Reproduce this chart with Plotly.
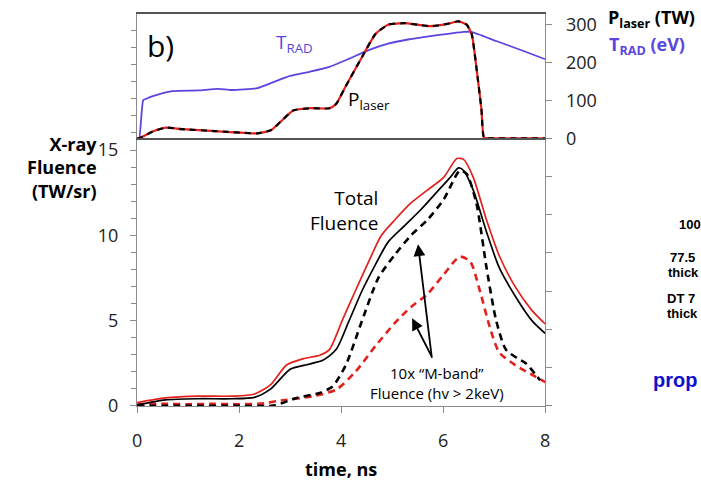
import plotly.graph_objects as go

# --- top panel: laser power and radiation temperature vs time (ns) ---
t_rad = [0.0, 0.04, 0.12, 0.18, 0.31, 0.69, 1.2, 1.59, 1.85, 2.36, 2.62, 3.0, 3.38, 3.77,
         4.15, 4.54, 4.92, 5.31, 5.75, 6.1, 6.4, 6.55, 7.04, 7.55, 8.0]
trad_ev = [0, 0, 100, 104, 111, 124, 126, 130, 127, 132, 145, 164, 175, 188,
           209, 232, 249, 260, 269, 275, 280, 280, 256, 231, 208]

t_las = [0.0, 0.04, 0.31, 0.56, 0.88, 1.52, 2.36, 2.62, 2.81, 3.06, 3.38, 3.77, 3.9,
         4.09, 4.41, 4.67, 4.92, 5.24, 5.5, 5.75, 6.08, 6.3, 6.46, 6.56, 6.65, 6.75,
         6.8, 6.9, 7.5, 8.0]
p_laser = [0, 0, 18, 28, 24, 19, 13, 21, 43, 73, 79, 79, 90,
           137, 214, 274, 299, 303, 299, 295, 301, 308, 299, 274, 188, 77,
           2, 0, 0, 0]

# --- bottom panel: x-ray fluence (TW/sr) vs time (ns) ---
t_tot = [0.0, 0.56, 1.2, 1.85, 2.29, 2.62, 2.93, 3.25, 3.58, 3.77, 4.02, 4.28, 4.54,
         4.79, 5.05, 5.37, 5.69, 6.01, 6.27, 6.4, 6.59, 6.85, 7.1, 7.42, 7.74, 8.0]
total_red = [0.2, 0.47, 0.57, 0.57, 0.68, 1.25, 2.4, 2.76, 2.97, 3.3, 5.0, 6.75, 8.46,
             10.0, 10.9, 11.9, 12.65, 13.4, 14.5, 14.45, 13.4, 10.9, 8.8, 6.95, 5.6, 4.8]

t_tot_b = [0.0, 0.56, 1.2, 1.85, 2.3, 2.62, 3.0, 3.3, 3.64, 3.9, 4.15, 4.41, 4.67,
           4.92, 5.24, 5.56, 5.88, 6.14, 6.3, 6.4, 6.59, 6.85, 7.1, 7.42, 7.74, 8.0]
total_black = [0.05, 0.35, 0.42, 0.42, 0.5, 1.0, 2.15, 2.4, 2.67, 3.3, 4.95, 6.75, 8.27,
               9.6, 10.55, 11.5, 12.55, 13.4, 13.95, 13.8, 12.65, 10.2, 8.1, 6.4, 5.0, 4.25]

t_mb_b = [0.0, 1.0, 2.0, 2.67, 3.13, 3.58, 3.83, 4.09, 4.41, 4.73, 5.05, 5.37, 5.69,
          6.01, 6.33, 6.46, 6.65, 6.85, 7.04, 7.23, 7.45, 7.62, 7.9]
mband_black = [0.0, 0.0, 0.0, 0.02, 0.47, 0.76, 1.14, 2.38, 5.0, 7.5, 8.85, 10.0, 10.9,
               12.1, 13.8, 13.6, 11.9, 8.1, 5.0, 3.3, 2.8, 2.5, 1.5]

t_mb_r = [0.0, 0.5, 1.0, 1.5, 2.0, 2.5, 2.74, 3.45, 3.9, 4.28, 4.67, 5.05, 5.37, 5.69,
          6.01, 6.33, 6.53, 6.72, 6.91, 7.1, 7.42, 7.7, 8.0]
mband_red = [0.1, 0.12, 0.1, 0.12, 0.1, 0.15, 0.28, 0.57, 0.95, 2.0, 3.5, 4.85, 5.8, 6.55,
             7.7, 8.75, 8.46, 6.75, 4.66, 3.14, 2.38, 1.9, 1.4]

x_ticks = [0, 2, 4, 6, 8]
fl_ticks = [0, 5, 10, 15]
right_ticks = [0, 100, 200, 300]

RED = "#e3201c"
BLUE = "#5b45e0"
AXIS = "#8a8a8a"
FONT = "Open Sans"
SMOOTH = 0.7

fig = go.Figure()

# top panel traces (x2 / y3)
fig.add_trace(go.Scatter(x=t_rad, y=trad_ev, mode="lines", xaxis="x2", yaxis="y3",
                         line=dict(color=BLUE, width=1.8, shape="spline", smoothing=0.5)))
fig.add_trace(go.Scatter(x=t_las, y=p_laser, mode="lines", xaxis="x2", yaxis="y3",
                         line=dict(color=RED, width=2.2, shape="spline", smoothing=0.5)))
fig.add_trace(go.Scatter(x=t_las, y=p_laser, mode="lines", xaxis="x2", yaxis="y3",
                         line=dict(color="black", width=2.2, dash="6px,5px",
                                   shape="spline", smoothing=0.5)))

# bottom panel traces
fig.add_trace(go.Scatter(x=t_mb_r, y=mband_red, mode="lines",
                         line=dict(color=RED, width=2.6, dash="7px,5px",
                                   shape="spline", smoothing=SMOOTH)))
fig.add_trace(go.Scatter(x=t_mb_b, y=mband_black, mode="lines",
                         line=dict(color="black", width=2.6, dash="7px,5px",
                                   shape="spline", smoothing=SMOOTH)))
fig.add_trace(go.Scatter(x=t_tot, y=total_red, mode="lines",
                         line=dict(color=RED, width=1.7, shape="spline", smoothing=SMOOTH)))
fig.add_trace(go.Scatter(x=t_tot_b, y=total_black, mode="lines",
                         line=dict(color="black", width=1.7, shape="spline",
                                   smoothing=SMOOTH)))
# keeps the extra axes drawn
fig.add_trace(go.Scatter(x=[None], y=[None], yaxis="y2", showlegend=False))
fig.add_trace(go.Scatter(x=[None], y=[None], xaxis="x2", yaxis="y4", showlegend=False))

xd = [134 / 701, 548 / 701]
top_dom = [1 - 140 / 486, 1 - 12 / 486]
bot_dom = [1 - 415 / 486, 1 - 140 / 486]

tickfont = dict(family=FONT, size=18, color="#222")

fig.update_layout(
    width=701, height=486,
    margin=dict(l=0, r=0, t=0, b=0),
    paper_bgcolor="white", plot_bgcolor="white",
    showlegend=False,
    font=dict(family=FONT, color="black"),
    # bottom panel
    xaxis=dict(domain=xd, range=[0, 8], tickvals=x_ticks, ticks="outside", ticklen=6,
               tickcolor=AXIS, showline=True, linecolor=AXIS, linewidth=1.2,
               showgrid=False, zeroline=False, tickfont=tickfont, ticklabelstandoff=12,
               title=dict(text="<b>time, ns</b>", font=dict(family=FONT, size=18),
                          standoff=12)),
    yaxis=dict(domain=bot_dom, range=[0, 15.69], tickvals=fl_ticks, ticks="outside",
               ticklen=6, tickcolor=AXIS, showline=True, linecolor=AXIS, linewidth=1.2,
               showgrid=False, zeroline=False, tickfont=tickfont, ticklabelstandoff=8,
               minor=dict(dtick=1, ticks="outside", ticklen=5, tickcolor=AXIS)),
    yaxis2=dict(domain=bot_dom, range=[0, 700], overlaying="y", side="right",
                anchor="x", dtick=100, showticklabels=False, ticks="outside", ticklen=6,
                tickcolor=AXIS, showline=True, linecolor=AXIS, linewidth=1.2,
                showgrid=False, zeroline=False),
    # top panel
    xaxis2=dict(domain=xd, range=[0, 8], anchor="y3", showticklabels=False, ticks="",
                showline=True, linecolor="#555", linewidth=1.5, mirror=True,
                showgrid=False, zeroline=False),
    yaxis3=dict(domain=top_dom, range=[0, 328], anchor="x2", side="right",
                tickvals=right_ticks, ticks="outside", ticklen=6, tickcolor=AXIS,
                showline=True, linecolor=AXIS, linewidth=1.2, showgrid=False,
                zeroline=False, tickfont=tickfont, ticklabelstandoff=10),
    yaxis4=dict(domain=top_dom, range=[15.69, 22.99], anchor="x2", overlaying="y3",
                side="left", dtick=1, showticklabels=False, ticks="outside", ticklen=5,
                tickcolor=AXIS, showline=True, linecolor=AXIS, linewidth=1.2,
                showgrid=False, zeroline=False),
)

ann = []


def text(x, y, s, size, color="black", xanchor="center", family=FONT, align="left"):
    ann.append(dict(x=x / 701, y=1 - y / 486, xref="paper", yref="paper", text=s,
                    showarrow=False, xanchor=xanchor, yanchor="middle", align=align,
                    font=dict(family=family, size=size, color=color)))


text(142, 45, "b)", 30, xanchor="left")
text(273, 42, "T<sub>RAD</sub>", 19, color=BLUE, xanchor="left")
text(346, 101, "P<sub>laser</sub>", 19, xanchor="left")
text(610, 17, "<b>P<sub>laser</sub> (TW)</b>", 18, xanchor="left")
text(611, 45, "<b>T<sub>RAD</sub> (eV)</b>", 18, color=BLUE, xanchor="left")
text(95, 170, "<b>X-ray</b><br><b>Fluence</b><br><b>(TW/sr)</b>", 18,
     xanchor="right", align="right")
text(380, 214, "Total<br>Fluence", 19, xanchor="right", align="right")
text(438, 391, "10x \u201cM-band\u201d<br>Fluence (hv > 2keV)", 15, align="center")

# arrows from the M-band label to the two dashed curves
for (xt, yt) in [(419, 249), (413, 325)]:
    ann.append(dict(x=xt / 701, y=1 - yt / 486, xref="paper", yref="paper",
                    ax=433 - xt, ay=364 - yt, axref="pixel", ayref="pixel",
                    text="", showarrow=True, arrowhead=2, arrowsize=1.3, arrowwidth=1.8,
                    arrowcolor="black"))

# neighbouring panel text at the right edge
for (x, y, s) in [(682, 229, "<b>100</b>"), (673, 263, "<b>77.5</b>"),
                  (671, 278, "<b>thick</b>"), (670, 305, "<b>DT 7</b>"),
                  (670, 320, "<b>thick</b>")]:
    text(x, y, s, 13, xanchor="left", family="Liberation Sans")
text(655, 388, "<b>prop</b>", 20, color="#1010d0", xanchor="left",
     family="Liberation Sans")

fig.update_layout(annotations=ann)
fig.write_html("out.html")
